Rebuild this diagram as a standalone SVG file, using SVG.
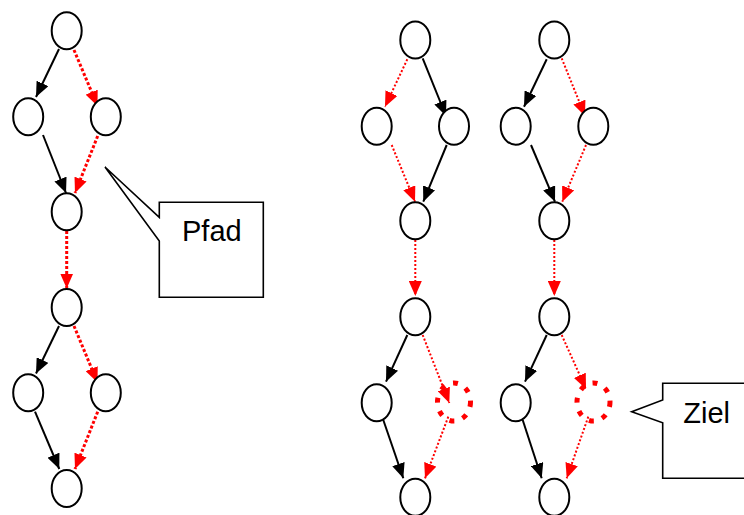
<svg xmlns="http://www.w3.org/2000/svg" width="744" height="515" viewBox="0 0 744 515">
  <style>
    .node { fill: #ffffff; stroke: #000000; stroke-width: 2; }
    .target { fill: none; stroke: #ff0000; stroke-width: 5; stroke-dasharray: 5 8.7; }
    .solid { stroke: #000000; stroke-width: 2; fill: none; marker-end: url(#headBlack); }
    .path { stroke: #ff0000; stroke-width: 3; stroke-dasharray: 3 2; fill: none; marker-end: url(#headRed); }
    .path.thin { stroke-width: 2; stroke-dasharray: 2 2; }
    .callout { fill: #ffffff; stroke: #000000; stroke-width: 1.6; }
    .label { font-family: "Liberation Sans", Arial, sans-serif; font-size: 29px; fill: #000000; }
  </style>
  <defs>
    <marker id="headBlack" markerUnits="userSpaceOnUse" markerWidth="15" markerHeight="13" refX="15" refY="6.5" orient="auto">
      <path d="M0,0 L15,6.5 L0,13 Z" fill="#000000"/>
    </marker>
    <marker id="headRed" markerUnits="userSpaceOnUse" markerWidth="15" markerHeight="13" refX="15" refY="6.5" orient="auto">
      <path d="M0,0 L15,6.5 L0,13 Z" fill="#ff0000"/>
    </marker>
  </defs>

  <!-- connectors -->
  <g id="connectors">
    <!-- left graph -->
    <line class="solid" x1="59" y1="49" x2="36" y2="97"/>
    <line class="path" x1="74" y1="50" x2="97.5" y2="106"/>
    <line class="solid" x1="43" y1="135" x2="66" y2="193"/>
    <line class="path" x1="97.7" y1="136" x2="75" y2="193"/>
    <line class="path" x1="66.7" y1="231" x2="66.7" y2="288.5"/>
    <line class="solid" x1="59" y1="326" x2="36" y2="373.5"/>
    <line class="path" x1="74" y1="326" x2="97.5" y2="382.5"/>
    <line class="solid" x1="35" y1="411.7" x2="59.3" y2="469"/>
    <line class="path" x1="97.7" y1="411.7" x2="75" y2="469"/>

    <!-- middle graph -->
    <line class="path thin" x1="407.3" y1="59.3" x2="385" y2="106.7"/>
    <line class="solid" x1="422.7" y1="58.3" x2="446" y2="116"/>
    <line class="path thin" x1="391.7" y1="145" x2="415" y2="201.7"/>
    <line class="solid" x1="446.7" y1="145" x2="423.3" y2="201.7"/>
    <line class="path thin" x1="415.3" y1="240" x2="415.3" y2="296"/>
    <line class="solid" x1="407.3" y1="335" x2="386" y2="381.7"/>
    <line class="path thin" x1="422.7" y1="335" x2="449.3" y2="403"/>
    <line class="solid" x1="383.3" y1="420" x2="403.3" y2="478.3"/>
    <line class="path thin" x1="448.3" y1="416.7" x2="425" y2="478.3"/>

    <!-- right graph -->
    <line class="solid" x1="546.7" y1="59.3" x2="524" y2="106.7"/>
    <line class="path thin" x1="561.7" y1="58.3" x2="585" y2="116"/>
    <line class="solid" x1="531" y1="145" x2="555" y2="201.7"/>
    <line class="path thin" x1="586" y1="145" x2="562.3" y2="201.7"/>
    <line class="path thin" x1="554.3" y1="240" x2="554.3" y2="296"/>
    <line class="solid" x1="546.7" y1="335" x2="525" y2="381.7"/>
    <line class="path thin" x1="561.7" y1="335" x2="586" y2="389"/>
    <line class="solid" x1="522.7" y1="420" x2="541.7" y2="478.3"/>
    <line class="path thin" x1="588.3" y1="416.7" x2="566.7" y2="478.3"/>
  </g>

  <!-- left graph nodes -->
  <g id="l1"><ellipse class="node" cx="66.7" cy="30.8" rx="15" ry="18.5"/></g>
  <g id="l2a"><ellipse class="node" cx="28.2" cy="116.8" rx="15" ry="18.5"/></g>
  <g id="l2b"><ellipse class="node" cx="105.8" cy="116.8" rx="15" ry="18.5"/></g>
  <g id="l3"><ellipse class="node" cx="66.7" cy="211.7" rx="15" ry="18.5"/></g>
  <g id="l4"><ellipse class="node" cx="66.7" cy="307.5" rx="15" ry="18.5"/></g>
  <g id="l5a"><ellipse class="node" cx="28.2" cy="392.8" rx="15" ry="18.5"/></g>
  <g id="l5b"><ellipse class="node" cx="105.8" cy="392.8" rx="15" ry="18.5"/></g>
  <g id="l6"><ellipse class="node" cx="66.7" cy="488.5" rx="15" ry="18.5"/></g>

  <!-- middle graph nodes -->
  <g id="m1"><ellipse class="node" cx="415.3" cy="40" rx="15" ry="18.5"/></g>
  <g id="m2a"><ellipse class="node" cx="376.7" cy="126.2" rx="15" ry="18.5"/></g>
  <g id="m2b"><ellipse class="node" cx="454" cy="126.2" rx="15" ry="18.5"/></g>
  <g id="m3"><ellipse class="node" cx="415.3" cy="220.8" rx="15" ry="18.5"/></g>
  <g id="m4"><ellipse class="node" cx="415.3" cy="316.7" rx="15" ry="18.5"/></g>
  <g id="m5a"><ellipse class="node" cx="376.7" cy="402.8" rx="15" ry="18.5"/></g>
  <g id="m5b"><ellipse class="target" cx="454" cy="402" rx="16.5" ry="19"/></g>
  <g id="m6"><ellipse class="node" cx="415.3" cy="497.3" rx="15" ry="18.5"/></g>

  <!-- right graph nodes -->
  <g id="r1"><ellipse class="node" cx="554.3" cy="40" rx="15" ry="18.5"/></g>
  <g id="r2a"><ellipse class="node" cx="515.7" cy="126.2" rx="15" ry="18.5"/></g>
  <g id="r2b"><ellipse class="node" cx="593.3" cy="126.2" rx="15" ry="18.5"/></g>
  <g id="r3"><ellipse class="node" cx="554.3" cy="220.8" rx="15" ry="18.5"/></g>
  <g id="r4"><ellipse class="node" cx="554.3" cy="316.7" rx="15" ry="18.5"/></g>
  <g id="r5a"><ellipse class="node" cx="515.7" cy="402.8" rx="15" ry="18.5"/></g>
  <g id="r5b"><ellipse class="target" cx="593.5" cy="402" rx="16.5" ry="19"/></g>
  <g id="r6"><ellipse class="node" cx="554.3" cy="497.3" rx="15" ry="18.5"/></g>

  <!-- callouts -->
  <g id="callout-pfad">
    <path class="callout" d="M159.3,202.3 H263.3 V297.3 H159.3 V241 L105,167 L159.3,217.3 Z"/>
    <text class="label" x="182" y="241">Pfad</text>
  </g>
  <g id="callout-ziel">
    <path class="callout" d="M760,383.3 H662.7 V400 L631.7,411.7 L662.7,422.7 V478.3 H760 Z"/>
    <text class="label" x="683.3" y="422.5">Ziel</text>
  </g>
</svg>
